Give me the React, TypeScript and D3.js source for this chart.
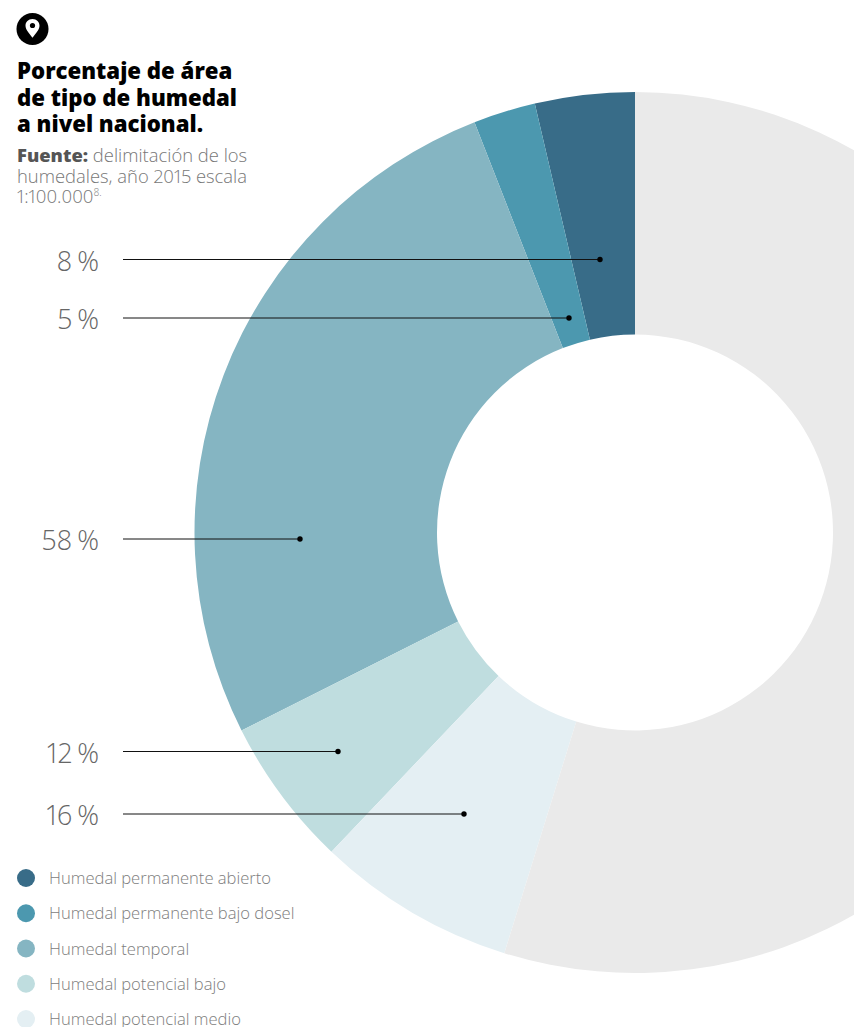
import React from "react";
import * as d3 from "d3";

// Wetland types; the ring runs counter-clockwise from twelve o'clock
const categories = [
  "Humedal permanente abierto",
  "Humedal permanente bajo dosel",
  "Humedal temporal",
  "Humedal potencial bajo",
  "Humedal potencial medio",
];
const percentages = [8, 5, 58, 12, 16];
const percentLabels = ["8 %", "5 %", "58 %", "12 %", "16 %"];
// Neutral remainder of the ring, on the same scale as the percentages
const remainder = 120;

const sliceColors = ["#386C88", "#4C98AF", "#85B5C2", "#BFDDDF", "#E4EFF3"];
const remainderColor = "#EAEAEA";

// Leader layout: label row and the dot's horizontal end
const leaderRows = [259.5, 318, 539, 751.5, 814];
const leaderEnds = [600, 569, 300, 338, 464];

const titleLines = ["Porcentaje de área", "de tipo de humedal", "a nivel nacional."];

const SANS = "'Open Sans', 'Noto Sans', sans-serif";

export default function App() {
  const values = [...percentages, remainder];
  const colors = [...sliceColors, remainderColor];
  const pie = d3
    .pie<number>()
    .sort(null)
    .startAngle(0)
    .endAngle(-2 * Math.PI);
  const arc = d3.arc<d3.PieArcDatum<number>>().innerRadius(198).outerRadius(440.5);
  const legendY = d3
    .scalePoint<string>()
    .domain(categories)
    .range([878, 1019]);

  return (
    <svg
      width={854}
      height={1027}
      viewBox="0 0 854 1027"
      style={{
        position: "absolute",
        left: 0,
        top: 0,
        display: "block",
        background: "#fff",
        fontVariantNumeric: "proportional-nums",
      }}
      fontFamily={SANS}
    >
      <g transform="translate(635,532.5)">
        {pie(values).map((d, i) => (
          <path key={i} d={arc(d) ?? ""} fill={colors[i]} />
        ))}
      </g>

      {/* Location badge */}
      <circle cx={32.5} cy={29} r={16} fill="#000" />
      <path
        d="M32.5 19c-4.200 0-7 3-7 6.700 0 4.300 4.600 8.600 7 12 2.400-3.400 7-7.700 7-12 0-3.700-2.800-6.700-7-6.700z"
        fill="#fff"
      />
      <circle cx={32.5} cy={25.5} r={2.6} fill="#000" />

      {titleLines.map((t, i) => (
        <text key={t} x={17} y={79 + i * 26.5} fontSize={22.2} fontWeight={800} fill="#000">
          {t}
        </text>
      ))}
      <text x={17} y={162} fontSize={18.4} fill="#777" fontWeight={300}>
        <tspan fontWeight={800} fill="#555">Fuente:</tspan> delimitación de los
      </text>
      <text x={17} y={183} fontSize={18.4} fill="#777" fontWeight={300}>
        humedales, año 2015 escala
      </text>
      <text x={17} y={203} fontSize={18.4} fill="#777" fontWeight={300}>
        1:100.000<tspan fontSize={10} dy={-7}>8.</tspan>
      </text>

      {percentLabels.map((label, i) => (
        <g key={label}>
          <text
            x={99}
            y={Math.round(leaderRows[i]) + 11}
            textAnchor="end"
            fontSize={27}
            fontWeight={300}
            wordSpacing={-2}
            fill="#666"
          >
            {label}
          </text>
          <line x1={123} x2={leaderEnds[i]} y1={leaderRows[i]} y2={leaderRows[i]} stroke="#111" strokeWidth={1} />
          <circle cx={leaderEnds[i]} cy={leaderRows[i]} r={2.7} fill="#000" />
        </g>
      ))}

      {categories.map((c, i) => (
        <g key={c}>
          <circle cx={26} cy={legendY(c)} r={9} fill={sliceColors[i]} />
          <text x={49} y={(legendY(c) ?? 0) + 6} fontSize={16.6} fontWeight={300} fill="#7d7d7d">
            {c}
          </text>
        </g>
      ))}
    </svg>
  );
}
